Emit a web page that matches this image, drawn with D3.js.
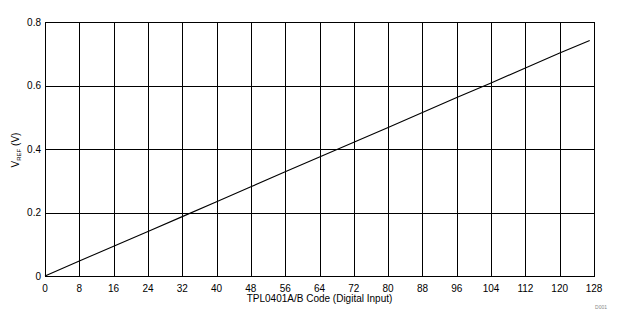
<!DOCTYPE html>
<html>
<head>
<meta charset="utf-8">
<script src="https://cdn.jsdelivr.net/npm/d3@7"></script>
<style>
body { margin: 0; background: #fff; }
svg text { font-family: "Liberation Sans", Arial, sans-serif; }
</style>
</head>
<body>
<div id="chart"></div>
<script>
var width = 623, height = 328;
var margin = {left: 45, top: 22, right: 29, bottom: 52};

var codes = [0, 8, 16, 24, 32, 40, 48, 56, 64, 72, 80, 88, 96, 104, 112, 120, 127];
var vref = [0.000, 0.047, 0.094, 0.140, 0.187, 0.234, 0.281, 0.328, 0.375, 0.421, 0.468, 0.515, 0.562, 0.608, 0.655, 0.702, 0.742];
var xTicks = [0, 8, 16, 24, 32, 40, 48, 56, 64, 72, 80, 88, 96, 104, 112, 120, 128];
var yTicks = [0, 0.2, 0.4, 0.6, 0.8];

var svg = d3.select("#chart").append("svg")
    .attr("width", width)
    .attr("height", height);

var x = d3.scaleLinear().domain([0, 128]).range([margin.left, width - margin.right]);
var y = d3.scaleLinear().domain([0, 0.8]).range([height - margin.bottom, margin.top]);

// gridlines
svg.append("g").selectAll("line.v")
    .data(xTicks)
    .enter().append("line")
    .attr("x1", function (d) { return Math.round(x(d)) + 0.5; })
    .attr("x2", function (d) { return Math.round(x(d)) + 0.5; })
    .attr("y1", Math.round(y(0.8)))
    .attr("y2", Math.round(y(0)) + 1)
    .attr("stroke", "#000")
    .attr("stroke-width", 1)
    .attr("shape-rendering", "crispEdges");

svg.append("g").selectAll("line.h")
    .data(yTicks)
    .enter().append("line")
    .attr("x1", Math.round(x(0)))
    .attr("x2", Math.round(x(128)) + 1)
    .attr("y1", function (d) { return Math.round(y(d)) + 0.5; })
    .attr("y2", function (d) { return Math.round(y(d)) + 0.5; })
    .attr("stroke", "#000")
    .attr("stroke-width", 1)
    .attr("shape-rendering", "crispEdges");

// tick labels
svg.append("g").selectAll("text")
    .data(xTicks)
    .enter().append("text")
    .attr("x", function (d) { return x(d); })
    .attr("y", y(0) + 16)
    .attr("text-anchor", "middle")
    .style("font-size", "10px")
    .text(function (d) { return d; });

svg.append("g").selectAll("text")
    .data(yTicks)
    .enter().append("text")
    .attr("x", x(0) - 4)
    .attr("y", function (d) { return y(d) + 3.5; })
    .attr("text-anchor", "end")
    .style("font-size", "10px")
    .text(function (d) { return d === 0 ? "0" : d3.format(".1f")(d); });

// the curve
var line = d3.line()
    .x(function (d, i) { return x(codes[i]); })
    .y(function (d) { return y(d); });

svg.append("path")
    .datum(vref)
    .attr("d", line)
    .attr("fill", "none")
    .attr("stroke", "#000")
    .attr("stroke-width", 1.1);

// axis titles
svg.append("text")
    .attr("x", (x(0) + x(128)) / 2)
    .attr("y", 302)
    .attr("text-anchor", "middle")
    .style("font-size", "10px")
    .text("TPL0401A/B Code (Digital Input)");

var yTitle = svg.append("text")
    .attr("transform", "translate(19,150) rotate(-90)")
    .attr("text-anchor", "middle")
    .style("font-size", "10px");
yTitle.append("tspan").text("V");
yTitle.append("tspan").attr("dy", 2).style("font-size", "6px").text("REF");
yTitle.append("tspan").attr("dy", -2).text(" (V)");

svg.append("text")
    .attr("x", 607)
    .attr("y", 309)
    .attr("text-anchor", "end")
    .style("font-size", "5px")
    .attr("fill", "#888")
    .text("D001");
</script>
</body>
</html>
